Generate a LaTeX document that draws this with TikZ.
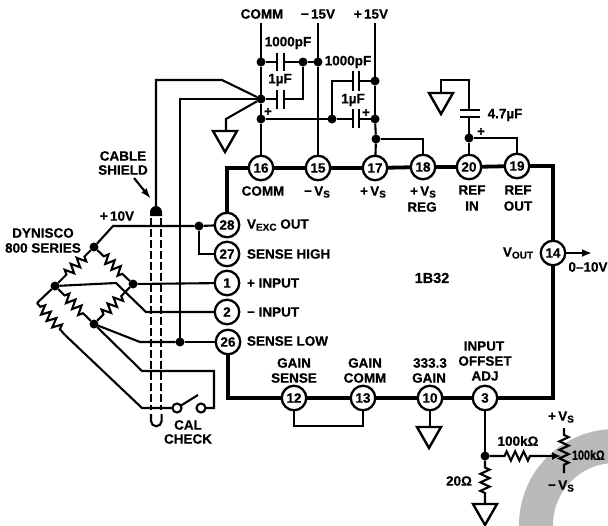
\documentclass[tikz,border=0pt]{standalone}
\usepackage{fontspec}
\setmainfont{Liberation Sans}[BoldFont={Liberation Sans Bold},BoldFeatures={FakeBold=0.5}]
\usetikzlibrary{decorations.pathmorphing,arrows.meta}
\newcommand{\lowr}[1]{\raisebox{-2pt}{\fontsize{10}{10}\selectfont #1}}
\tikzset{
  x=1pt,y=-1pt,
  every node/.style={font=\fontsize{13.5}{14}\selectfont\bfseries,inner sep=0pt,outer sep=0pt,text=black},
  pin/.style={circle,draw,line width=2.3pt,fill=white,minimum size=24.5pt},
  dot/.style={circle,fill=black,minimum size=9pt},
  wire/.style={line width=2.1pt,black,line join=miter},
  boxline/.style={line width=3.8pt,black},
  plate/.style={line width=2.8pt,black},
  res/.style={wire,decorate,decoration={zigzag,amplitude=4.6pt,segment length=8.5pt,pre length=#1,post length=#1}},
  shield/.style={line width=2.2pt,black,dash pattern=on 8pt off 3pt},
  contact/.style={circle,draw,line width=2.1pt,fill=white,minimum size=9pt},
  lab/.style={anchor=west},
  gnd/.style={line width=2.4pt,black,line join=miter}
}
\newcommand{\gndsym}[2]{\draw[gnd] (#1-12,#2) -- (#1+12,#2) -- (#1,#2+21) -- cycle;}
\begin{document}
\begin{tikzpicture}
\clip (0,0) rectangle (608,525);
\fill[white] (0,0) rectangle (608,525);
\fill[black!27,even odd rule] (615,525) circle (96) (615,525) circle (62);

% pins
\node[pin] (p16) at (261,168) {16};
\node[pin] (p15) at (318,168) {15};
\node[pin] (p17) at (375,168) {17};
\node[pin] (p18) at (423,167) {18};
\node[pin] (p20) at (469,167) {20};
\node[pin] (p19) at (517,166) {19};
\node[pin] (p14) at (553,253) {14};
\node[pin] (p28) at (227,225) {28};
\node[pin] (p27) at (227,254) {27};
\node[pin] (p1) at (227,283) {1};
\node[pin] (p2) at (227,312) {2};
\node[pin] (p26) at (228,342) {26};
\node[pin] (p12) at (294,398) {12};
\node[pin] (p13) at (363,398) {13};
\node[pin] (p10) at (430,398) {10};
\node[pin] (p3) at (485,398) {3};

% package outline
\draw[boxline] (p28) |- (p16);
\draw[boxline] (p16) -- (p15);
\draw[boxline] (p15) -- (p17);
\draw[boxline] (p17) -- (p18);
\draw[boxline] (p18) -- (p20);
\draw[boxline] (p20) -- (p19);
\draw[boxline] (p19) -| (p14);
\draw[boxline] (p14) |- (p3);
\draw[boxline] (p3) -- (p10);
\draw[boxline] (p10) -- (p13);
\draw[boxline] (p13) -- (p12);
\draw[boxline] (p12) -| (p26);

% supply junctions
\coordinate (tcomm) at (261,23);
\coordinate (tm15) at (318,23);
\coordinate (tp15) at (375,23);
\node[dot] (a1) at (261,62) {};
\node[dot] (a2) at (261,99) {};
\node[dot] (a3) at (261,119) {};
\node[dot] (b1) at (303,62) {};
\node[dot] (b2) at (318,62) {};
\node[dot] (c1) at (375,81) {};
\node[dot] (c2) at (375,119) {};
\node[dot] (c3) at (376,139) {};
\node[dot] (d1) at (332,119) {};
\draw[wire] (tcomm) -- (a1);
\draw[wire] (a1) -- (a2);
\draw[wire] (a2) -- (a3);
\draw[wire] (a3) -- (p16);
\draw[wire] (tm15) -- (b2);
\draw[wire] (b2) -- (p15);
\draw[wire] (tp15) -- (c1);
\draw[wire] (c1) -- (c2);
\draw[wire] (c2) -- (c3);
\draw[wire] (c3) -- (p17);
\draw[wire] (c3) -| (p18);
\draw[wire] (b1) -- (b2);
% caps
\coordinate (ca1) at (277,62); \coordinate (ca2) at (284,62);
\coordinate (cb1) at (277,99); \coordinate (cb2) at (284,99);
\coordinate (cc1) at (353,81); \coordinate (cc2) at (359,81);
\coordinate (cd1) at (353,119); \coordinate (cd2) at (359,119);
\draw[wire] (a1) -- (ca1); \draw[wire] (ca2) -- (b1);
\draw[plate] (277,53) -- (277,71); \draw[plate] (284,53) -- (284,71);
\draw[wire] (a2) -- (cb1); \draw[wire] (cb2) -| (b1);
\draw[plate] (277,90) -- (277,109); \draw[plate] (284,90) -- (284,109);
\draw[wire] (a3) -- (d1);
\draw[wire] (d1) |- (cc1); \draw[wire] (cc2) -- (c1);
\draw[plate] (353,71) -- (353,91); \draw[plate] (359,71) -- (359,91);
\draw[wire] (d1) -- (cd1); \draw[wire] (cd2) -- (c2);
\draw[plate] (353,109) -- (353,128); \draw[plate] (359,109) -- (359,128);
\node at (268,112) {+};
\node at (366,113) {+};
\node at (288,43) {1000pF};
\node at (280,80) {1µF};
\node at (348,62) {1000pF};
\node at (353,100) {1µF};
% ground at supply
\coordinate (g1a) at (226,119); \coordinate (g1b) at (226,131);
\draw[wire] (a2) -- (g1a) -- (g1b);
\gndsym{225}{131}
% cable wires
\coordinate (k1) at (222,80); \coordinate (k2) at (156,80); \coordinate (k3) at (156,208);
\node[dot] (s1) at (180,342) {};
\coordinate (k4) at (180,99);
\draw[wire] (a2) -- (k1) -- (k2) -- (k3);
\draw[wire] (a2) -- (k4) -- (s1);
\fill (150,216) -- (150,212) arc[start angle=180,end angle=360,radius=6] -- (162,216) -- cycle;

% ref cap
\node[dot] (r1) at (469,138) {};
\coordinate (r2) at (469,117);
\coordinate (r3) at (469,110);
\coordinate (r4) at (469,80);
\coordinate (r5) at (441,80);
\coordinate (r6) at (441,93);
\draw[wire] (p20) -- (r1);
\draw[wire] (r1) -- (r2);
\draw[wire] (r1) -| (p19);
\draw[wire] (r3) -- (r4) -- (r5) -- (r6);
\draw[plate] (460,110) -- (480,110);
\draw[plate] (460,117) -- (480,117);
\gndsym{441}{93}
\node at (481,132) {+};
\node at (505,115) {4.7µF};

% bridge
\node[dot] (bt) at (94,247) {};
\node[dot] (br) at (133,284) {};
\node[dot] (bl) at (55,286) {};
\node[dot] (bb) at (94,324) {};
\node[dot] (s2) at (199,226) {};
\coordinate (w1) at (113,226);
\draw[wire] (p28) -- (s2);
\draw[wire] (s2) -- (w1) -- (bt);
\draw[wire] (s2) |- (p27);
\draw[wire] (br) -- (p1);
\coordinate (w2) at (116,283); \coordinate (w3) at (146,312);
\draw[wire] (bl) -- (w2) -- (w3) -- (p2);
\coordinate (w4) at (140,342);
\draw[wire] (bb) -- (w4) -- (s1);
\draw[wire] (s1) -- (p26);
\draw[res=9pt] (bt) -- (br);
\draw[res=9pt] (bt) -- (bl);
\draw[res=9pt] (bl) -- (bb);
\draw[res=9pt] (bb) -- (br);
% cal branch
\coordinate (e1) at (37,303);
\coordinate (e2) at (65,335);
\coordinate (e3) at (142,408);
\coordinate (e4) at (142,371);
\coordinate (e5) at (214,371);
\coordinate (e6) at (214,408);
\coordinate (e7) at (198,395);
\node[contact] (sw1) at (177,408) {};
\node[contact] (sw2) at (201,408) {};
\draw[wire] (bl) -- (e1);
\draw[res=5pt] (e1) -- (e2);
\draw[wire] (e2) -- (e3) -- (sw1);
\draw[wire] (sw1) -- (e7);
\draw[wire] (sw2) -- (e6) -- (e5) -- (e4) -- (bb);

% shield
\draw[shield] (151,218) -- (151,410);
\draw[shield] (161,218) -- (161,410);
\draw[wire] (151,414) -- (151,421) arc[start angle=180,end angle=0,radius=5.3] -- (161.6,414);
% arrow
\coordinate (ar1) at (134,178); \coordinate (ar2) at (151,199);
\draw[wire,-{Latex[length=11pt,width=7pt]}] (ar1) -- (ar2);

% output
\coordinate (o1) at (592,253);
\draw[wire,-{Latex[length=10pt,width=8pt]}] (p14) -- (o1);

% bottom
\coordinate (j1) at (294,426); \coordinate (j2) at (363,426);
\draw[wire] (p12) -- (j1) -- (j2) -- (p13);
\coordinate (g2) at (430,427);
\draw[wire] (p10) -- (g2);
\gndsym{429}{427}
\node[dot] (t1) at (485,456) {};
\coordinate (t2) at (485,504);
\draw[wire] (p3) -- (t1);
\draw[res=7pt] (t1) -- (t2);
\gndsym{485}{504}
\coordinate (t3) at (548,456);
\coordinate (t4) at (561,456);
\coordinate (t5) at (564,428);
\coordinate (t6) at (564,473);
\draw[res=15pt] (t1) -- (t3);
\draw[wire,-{Latex[length=9pt,width=8pt]}] (t3) -- (t4);
\draw[res=7pt] (t5) -- (t6);

% labels
\node at (262,14) {COMM};
\node at (318,14) {−\,15V};
\node at (371,14) {+\,15V};
\node at (263,191) {COMM};
\node at (317,192) {−\,V\lowr{S}};
\node at (373,192) {+\,V\lowr{S}};
\node at (423,192) {+\,V\lowr{S}};
\node at (422,207) {REG};
\node at (472,190) {REF};
\node at (472,206) {IN};
\node at (518,190) {REF};
\node at (518,206) {OUT};
\node at (518,253) {V\lowr{OUT}};
\node at (588,267) {0–10V};
\node[font=\fontsize{14.5}{15}\selectfont\bfseries] at (432,278) {1B32};
\node[lab] at (247,225) {V\lowr{EXC} OUT};
\node[lab] at (247,254) {SENSE HIGH};
\node[lab] at (247,283) {+ INPUT};
\node[lab] at (247,312) {− INPUT};
\node[lab] at (247,341) {SENSE LOW};
\node at (123,156) {CABLE};
\node at (123,170) {SHIELD};
\node at (117,216) {+\,10V};
\node at (43,233) {DYNISCO};
\node at (43,248) {800 SERIES};
\node at (188,425) {CAL};
\node at (188,439) {CHECK};
\node at (294,363) {GAIN};
\node at (294,378) {SENSE};
\node at (365,363) {GAIN};
\node at (365,378) {COMM};
\node at (430,363) {333.3};
\node at (429,378) {GAIN};
\node at (484,346) {INPUT};
\node at (485,361) {OFFSET};
\node at (485,376) {ADJ};
\node at (518,441) {100kΩ};
\node at (561,417) {+\,V\lowr{S}};
\node at (561,486) {−\,V\lowr{S}};
\node[lab] at (572,455) {\scalebox{0.8}[1]{100kΩ}};
\node at (459,481) {20Ω};
\end{tikzpicture}
\end{document}
